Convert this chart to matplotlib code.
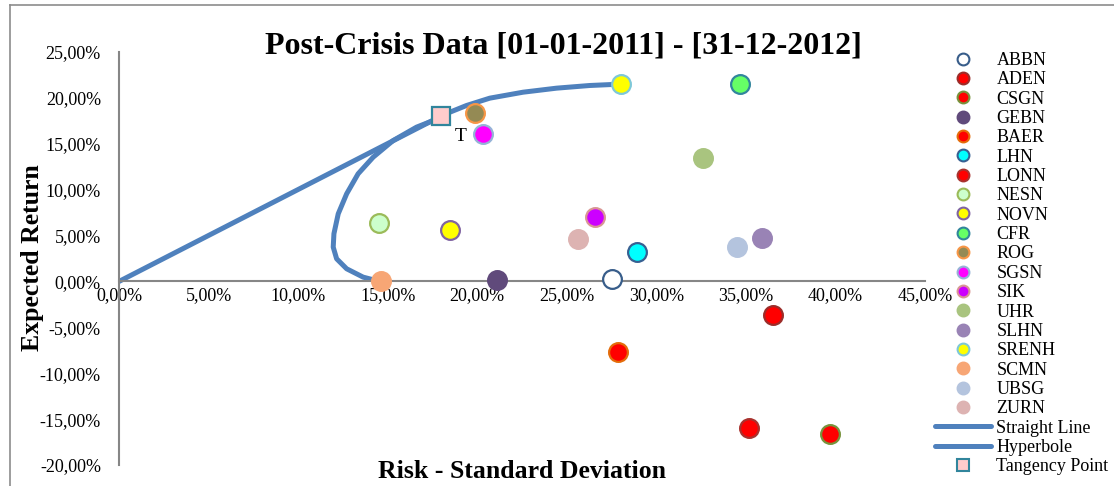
import matplotlib
matplotlib.use("Agg")
import matplotlib.pyplot as plt
from matplotlib.lines import Line2D
from matplotlib.ticker import FuncFormatter, MultipleLocator

plt.rcParams["font.family"] = ["Liberation Serif", "DejaVu Serif"]

# Stocks (risk = std dev in %, ret = expected return in %)
tickers = ["ABBN", "ADEN", "CSGN", "GEBN", "BAER", "LHN", "LONN", "NESN", "NOVN", "CFR",
           "ROG", "SGSN", "SIK", "UHR", "SLHN", "SRENH", "SCMN", "UBSG", "ZURN"]
risk = [27.5, 36.5, 39.7, 21.1, 27.85, 28.9, 35.2, 14.5, 18.5, 34.65,
        19.9, 20.3, 26.6, 32.6, 35.9, 28.0, 14.6, 34.5, 25.6]
ret = [0.3, -3.7, -16.6, 0.2, -7.7, 3.2, -16.0, 6.4, 5.6, 21.5,
       18.3, 16.1, 7.0, 13.5, 4.7, 21.5, 0.0, 3.8, 4.6]

# Capital market line and efficient frontier
line_risk = [0.0, 17.97]
line_ret = [0.0, 18.0]
hyp_risk = [14.55, 13.63, 12.71, 12.15, 11.96, 12.0, 12.24, 12.71, 13.35, 14.19, 15.31,
            16.61, 17.63, 17.97, 18.47, 19.4, 20.7, 22.56, 24.43, 26.28, 28.0]
hyp_ret = [0.0, 0.47, 1.38, 2.47, 3.74, 5.2, 7.37, 9.55, 11.73, 13.54, 15.36,
           16.81, 17.6, 18.0, 18.44, 19.17, 19.97, 20.62, 21.06, 21.35, 21.5]
tan_risk = [17.97]
tan_ret = [18.0]

# marker face / edge colours per stock
face = {"ABBN": "#FFFFFF", "ADEN": "#FF0000", "CSGN": "#FF0000", "GEBN": "#604A7B",
        "BAER": "#FF0000", "LHN": "#00FFFF", "LONN": "#FF0000", "NESN": "#CCFFCC",
        "NOVN": "#FFFF00", "CFR": "#66FF66", "ROG": "#948A54", "SGSN": "#FF00FF",
        "SIK": "#CC00FF", "UHR": "#A9C47F", "SLHN": "#9983B5", "SRENH": "#FFFF00",
        "SCMN": "#F7A675", "UBSG": "#B4C4DE", "ZURN": "#DDB3B2"}
edge = {"ABBN": "#385D8A", "ADEN": "#9B2D2A", "CSGN": "#77933C", "GEBN": "#604A7B",
        "BAER": "#E46C0A", "LHN": "#376092", "LONN": "#A8322E", "NESN": "#9BBB59",
        "NOVN": "#8064A2", "CFR": "#31859C", "ROG": "#F79646", "SGSN": "#95B3D7",
        "SIK": "#D99694", "UHR": "#A9C47F", "SLHN": "#9983B5", "SRENH": "#7EC8D8",
        "SCMN": "#F7A675", "UBSG": "#B4C4DE", "ZURN": "#DDB3B2"}

blue = "#4F81BD"
grey = "#868686"

fig = plt.figure(figsize=(11.14, 4.86), dpi=100)
ax = fig.add_axes([119 / 1114, 1 - 465 / 486, 806 / 1114, 413 / 486])

ax.plot(line_risk, line_ret, color=blue, lw=3.6, solid_capstyle="round", zorder=2)
ax.plot(hyp_risk, hyp_ret, color=blue, lw=3.6, solid_capstyle="round",
        solid_joinstyle="round", zorder=2)

handles = []
for t, x, y in zip(tickers, risk, ret):
    ax.plot(x, y, "o", ms=13.5, mfc=face[t], mec=edge[t], mew=1.6, zorder=3)
    handles.append(Line2D([], [], ls="none", marker="o", ms=8.5, mfc=face[t],
                          mec=edge[t], mew=1.5, label=t))

ax.plot(tan_risk, tan_ret, "s", ms=12.5, mfc="#FFCCCC", mec="#31859C", mew=1.6, zorder=4)
ax.text(tan_risk[0] + 1.1, tan_ret[0] - 2.2, "T", fontsize=14, ha="center", va="center")

handles.append(Line2D([], [], color=blue, lw=3.6, solid_capstyle="round", label="Straight Line"))
handles.append(Line2D([], [], color=blue, lw=3.6, solid_capstyle="round", label="Hyperbole"))
handles.append(Line2D([], [], ls="none", marker="s", ms=8.5, mfc="#FFCCCC", mec="#31859C",
                      mew=1.5, label="Tangency Point"))

ax.set_xlim(0, 45)
ax.set_ylim(-20, 25)
ax.xaxis.set_major_locator(MultipleLocator(5))
ax.yaxis.set_major_locator(MultipleLocator(5))
pct = FuncFormatter(lambda v, p: f"{v:.2f}%".replace(".", ",").replace("\u2212", "-"))
ax.xaxis.set_major_formatter(pct)
ax.yaxis.set_major_formatter(pct)
ax.tick_params(axis="both", length=0, labelsize=13)
ax.tick_params(axis="x", pad=4)
ax.tick_params(axis="y", pad=13)

for s in ["top", "right"]:
    ax.spines[s].set_visible(False)
ax.spines["bottom"].set_position(("data", 0))
for s in ["left", "bottom"]:
    ax.spines[s].set_color(grey)
    ax.spines[s].set_linewidth(1.5)

fig.text(563.5 / 1114, 1 - 46 / 486, "Post-Crisis Data [01-01-2011] - [31-12-2012]",
         fontsize=23, fontweight="bold", ha="center", va="center")
fig.text(522 / 1114, 1 - 471 / 486, "Risk - Standard Deviation",
         fontsize=18.5, fontweight="bold", ha="center", va="center")
fig.text(33 / 1114, 1 - 258 / 486, "Expected Return", rotation=90,
         fontsize=18.5, fontweight="bold", ha="center", va="center")

fig.legend(handles=handles, loc="upper left", bbox_to_anchor=(935 / 1114, 1 - 52 / 486),
           frameon=False, fontsize=13, borderpad=0, borderaxespad=0, handlelength=3.1,
           handletextpad=0.3, labelspacing=0.13, numpoints=1)

# chart frame edges (top and left) as in the source image
fig.add_artist(Line2D([10 / 1114, 10 / 1114], [0, 1 - 5 / 486], color="#8C8C8C", lw=1.2))
fig.add_artist(Line2D([10 / 1114, 1], [1 - 5 / 486, 1 - 5 / 486], color="#8C8C8C", lw=1.2))

fig.savefig("out.png", dpi=100)
